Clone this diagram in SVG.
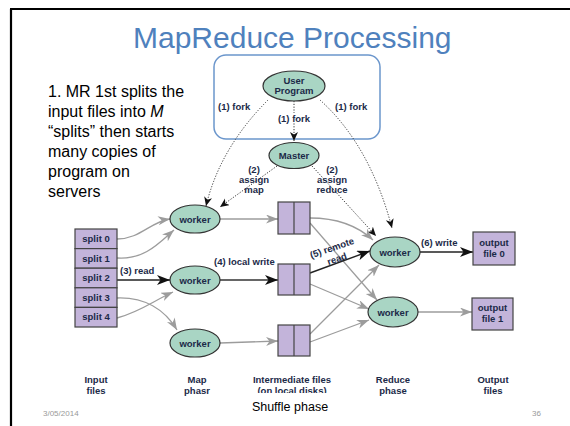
<svg xmlns="http://www.w3.org/2000/svg" width="570" height="426" viewBox="0 0 570 426">
<defs>
<style>
.fig{font-family:"Liberation Sans",Arial,sans-serif;font-weight:bold;fill:#1c2a48;font-size:9.5px}
.c{text-anchor:middle}
.ell{fill:#a9d5c4;stroke:#333;stroke-width:1.2}
.box{fill:#c3b4da;stroke:#444;stroke-width:1.2}
.g{fill:none;stroke:#9c9c9c;stroke-width:1.3}
.k{fill:none;stroke:#222;stroke-width:1.4}
.d{fill:none;stroke:#333;stroke-width:1;stroke-dasharray:1.2 1.6}
.slide{font-family:"Liberation Sans",Arial,sans-serif}
</style>
<marker id="ag" markerUnits="userSpaceOnUse" markerWidth="13" markerHeight="10" refX="12" refY="4.5" orient="auto"><path d="M0,0 L12,4.5 L0,9 L3.5,4.5 z" fill="#9c9c9c"/></marker>
<marker id="ak" markerUnits="userSpaceOnUse" markerWidth="14" markerHeight="10" refX="13" refY="5" orient="auto"><path d="M0,0 L13,5 L0,10 L3.5,5 z" fill="#111"/></marker>
<marker id="ad" markerUnits="userSpaceOnUse" markerWidth="10" markerHeight="10" refX="9" refY="4" orient="auto"><path d="M0,0 L9,4 L0,8 L2.5,4 z" fill="#111"/></marker>
</defs>
<rect width="570" height="426" fill="#fff"/>
<path d="M10,9 H570 M11,9 V426" fill="none" stroke="#000" stroke-width="2.2"/>
<text class="slide" x="133" y="48" font-size="30" fill="#4f81bd">MapReduce Processing</text>
<g class="slide" font-size="16" fill="#000">
<text x="48" y="97">1. MR 1st splits the</text>
<text x="48" y="117">input files into <tspan font-style="italic">M</tspan></text>
<text x="48" y="137">“splits” then starts</text>
<text x="48" y="157">many copies of</text>
<text x="48" y="177">program on</text>
<text x="48" y="197">servers</text>
</g>
<rect x="214" y="55" width="166" height="84" rx="12" fill="none" stroke="#6b96cc" stroke-width="1.5"/>

<g id="connectors">
<path class="d" d="M268,100 Q220,148 206,206" marker-end="url(#ad)"/>
<path class="d" d="M320,100 Q370,145 392,228" marker-end="url(#ad)"/>
<path class="d" d="M294,101 V141" marker-end="url(#ad)"/>
<path class="d" d="M277,166 L220,207" marker-end="url(#ad)"/>
<path class="d" d="M312,166 L376,236" marker-end="url(#ad)"/>
<path class="g" d="M117,239 C140,239 150,222 170,219" marker-end="url(#ag)"/>
<path class="g" d="M117,258 C145,260 160,242 174,230" marker-end="url(#ag)"/>
<path class="k" d="M117,280 L170,280" marker-end="url(#ak)"/>
<path class="g" d="M117,298 C145,297 165,310 177,330" marker-end="url(#ag)"/>
<path class="g" d="M117,318 C140,312 155,300 173,292" marker-end="url(#ag)"/>
<path class="g" d="M220,219 L278,219" marker-end="url(#ag)"/>
<path d="M220,280 L278,280" fill="none" stroke="#666" stroke-width="1.8" marker-end="url(#ak)"/>
<path class="g" d="M220,343 L278,341" marker-end="url(#ag)"/>
<path class="g" d="M310,218 C340,218 360,228 373,240" marker-end="url(#ag)"/>
<path class="g" d="M310,223 L377,300" marker-end="url(#ag)"/>
<path class="k" d="M310,273 L370,251" marker-end="url(#ak)"/>
<path class="g" d="M310,284 L369,309" marker-end="url(#ag)"/>
<path class="g" d="M310,334 L379,265" marker-end="url(#ag)"/>
<path class="g" d="M310,342 L369,320" marker-end="url(#ag)"/>
<path class="k" d="M420,252 L473,252" marker-end="url(#ak)"/>
<path class="g" d="M418,312 L472,312" marker-end="url(#ag)"/>
</g>

<g class="fig">
<text x="218" y="110">(1) fork</text>
<text x="335" y="110">(1) fork</text>
<rect x="281" y="113" width="26" height="10" fill="#fff"/>
<text x="294" y="122" class="c">(1) fork</text>
<text class="c" x="254" y="173">(2)</text>
<text class="c" x="254" y="183">assign</text>
<text class="c" x="254" y="193">map</text>
<text class="c" x="332" y="173">(2)</text>
<text class="c" x="332" y="183">assign</text>
<text class="c" x="332" y="193">reduce</text>
<text x="120" y="274">(3) read</text>
<text x="214" y="265">(4) local write</text>
<text transform="translate(333,251) rotate(-19)" class="c">(5) remote</text>
<text transform="translate(338,262) rotate(-19)" class="c">read</text>
<text x="421" y="246">(6) write</text>
</g>

<g id="user-program"><ellipse class="ell" cx="294" cy="86" rx="31" ry="15"/><text class="fig c" x="294" y="84">User</text><text class="fig c" x="294" y="94">Program</text></g>
<g id="master"><ellipse class="ell" cx="294" cy="155.5" rx="25" ry="13"/><text class="fig c" x="294" y="159">Master</text></g>

<g id="splits">
<rect class="box" x="75" y="229" width="42" height="19.6"/>
<rect class="box" x="75" y="248.6" width="42" height="19.6"/>
<rect class="box" x="75" y="268.2" width="42" height="19.6"/>
<rect class="box" x="75" y="287.8" width="42" height="19.6"/>
<rect class="box" x="75" y="307.4" width="42" height="19.6"/>
<g class="fig">
<text class="c" x="96" y="242">split 0</text>
<text class="c" x="96" y="261.6">split 1</text>
<text class="c" x="96" y="281.2">split 2</text>
<text class="c" x="96" y="300.8">split 3</text>
<text class="c" x="96" y="320.4">split 4</text>
</g>
</g>

<g id="map-worker-1"><ellipse class="ell" cx="195" cy="219" rx="25" ry="14"/><text class="fig c" x="195" y="222.5">worker</text></g>
<g id="map-worker-2"><ellipse class="ell" cx="195" cy="280" rx="25" ry="14"/><text class="fig c" x="195" y="283.5">worker</text></g>
<g id="map-worker-3"><ellipse class="ell" cx="195" cy="343" rx="25" ry="14"/><text class="fig c" x="195" y="346.5">worker</text></g>

<g id="inter-1"><rect class="box" x="278" y="202" width="32" height="32"/><path d="M294,202 V234" stroke="#444" stroke-width="1.2"/></g>
<g id="inter-2"><rect class="box" x="278" y="264" width="32" height="31"/><path d="M294,264 V295" stroke="#444" stroke-width="1.2"/></g>
<g id="inter-3"><rect class="box" x="278" y="325" width="32" height="31"/><path d="M294,325 V356" stroke="#444" stroke-width="1.2"/></g>

<g id="reduce-worker-1"><ellipse class="ell" cx="395" cy="252" rx="25" ry="15"/><text class="fig c" x="395" y="255.5">worker</text></g>
<g id="reduce-worker-2"><ellipse class="ell" cx="393" cy="312" rx="25" ry="15"/><text class="fig c" x="393" y="315.5">worker</text></g>

<g id="output-0"><rect class="box" x="473" y="232" width="42" height="33"/><text class="fig c" x="494" y="246">output</text><text class="fig c" x="494" y="257">file 0</text></g>
<g id="output-1"><rect class="box" x="472" y="298" width="41" height="32"/><text class="fig c" x="492.5" y="311">output</text><text class="fig c" x="492.5" y="322">file 1</text></g>

<g class="fig" font-size="9.5">
<text class="c" x="96" y="383">Input</text><text class="c" x="96" y="394">files</text>
<text class="c" x="197" y="383">Map</text><text class="c" x="197" y="394">phasr</text>
<text class="c" x="292" y="383">Intermediate files</text><text class="c" x="292" y="394">(on local disks)</text>
<text class="c" x="393" y="383">Reduce</text><text class="c" x="393" y="394">phase</text>
<text class="c" x="493" y="383">Output</text><text class="c" x="493" y="394">files</text>
</g>
<rect x="240" y="393" width="105" height="20" fill="#fff"/>
<text class="slide" x="290" y="411" font-size="12.5" text-anchor="middle" fill="#000">Shuffle phase</text>
<text class="slide" x="43" y="416" font-size="8" fill="#999">3/05/2014</text>
<text class="slide" x="532" y="416" font-size="8" fill="#999">36</text>
</svg>
